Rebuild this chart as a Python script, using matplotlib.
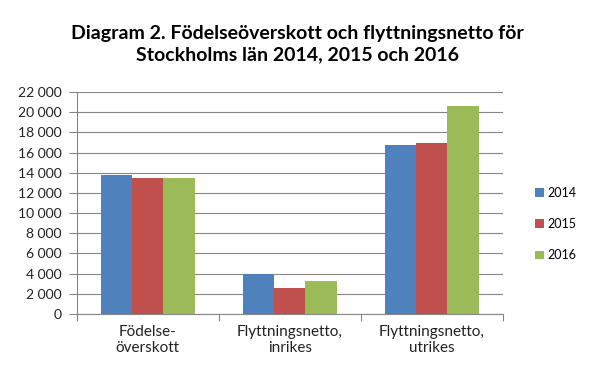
import numpy as np
import matplotlib.pyplot as plt
from matplotlib.ticker import FuncFormatter

plt.rcParams['font.family'] = ['Lato', 'DejaVu Sans']

categories = ["Födelse-\növerskott", "Flyttningsnetto,\ninrikes", "Flyttningsnetto,\nutrikes"]
years = ["2014", "2015", "2016"]
values_2014 = [13800, 4000, 16800]
values_2015 = [13500, 2600, 16900]
values_2016 = [13500, 3300, 20600]
colors = ["#4F81BD", "#C0504D", "#9BBB59"]

fig = plt.figure(figsize=(5.95, 3.79), dpi=100)
ax = fig.add_axes([0.129, 0.172, 0.716, 0.585])

x = np.arange(len(categories))
w = 0.22
for k, (vals, lab, col) in enumerate(zip([values_2014, values_2015, values_2016], years, colors)):
    ax.bar(x + (k - 1) * w, vals, width=w, color=col, label=lab, zorder=3)

ax.set_xlim(-0.5, 2.5)
ax.set_ylim(0, 22000)
ax.set_yticks(np.arange(0, 22001, 2000))
ax.yaxis.set_major_formatter(FuncFormatter(lambda v, p: f"{int(v):,}".replace(",", " ")))
ax.grid(axis="y", color="#868686", linewidth=0.8, zorder=0)

# tick marks at category boundaries, labels centered
ax.set_xticks([-0.5, 0.5, 1.5, 2.5])
ax.set_xticklabels([])
ax.set_xticks(x, minor=True)
ax.set_xticklabels(categories, minor=True, fontsize=11, color="#222222")
ax.tick_params(axis="x", which="major", length=5, color="#868686")
ax.tick_params(axis="x", which="minor", length=0, pad=8)
ax.tick_params(axis="y", length=6, color="#868686", labelsize=10, labelcolor="#222222", pad=5)

for s in ["top", "right"]:
    ax.spines[s].set_visible(False)
for s in ["left", "bottom"]:
    ax.spines[s].set_color("#868686")
    ax.spines[s].set_linewidth(0.8)

ax.legend(loc="center left", bbox_to_anchor=(1.05, 0.405), frameon=False,
          fontsize=9, handlelength=0.7, handleheight=0.7, labelspacing=1.55,
          handletextpad=0.3)

fig.text(0.5, 0.883, "Diagram 2. Födelseöverskott och flyttningsnetto för\nStockholms län 2014, 2015 och 2016",
         ha="center", va="center", fontsize=14, fontweight="bold", linespacing=1.3)

fig.savefig("out.png", dpi=100)
